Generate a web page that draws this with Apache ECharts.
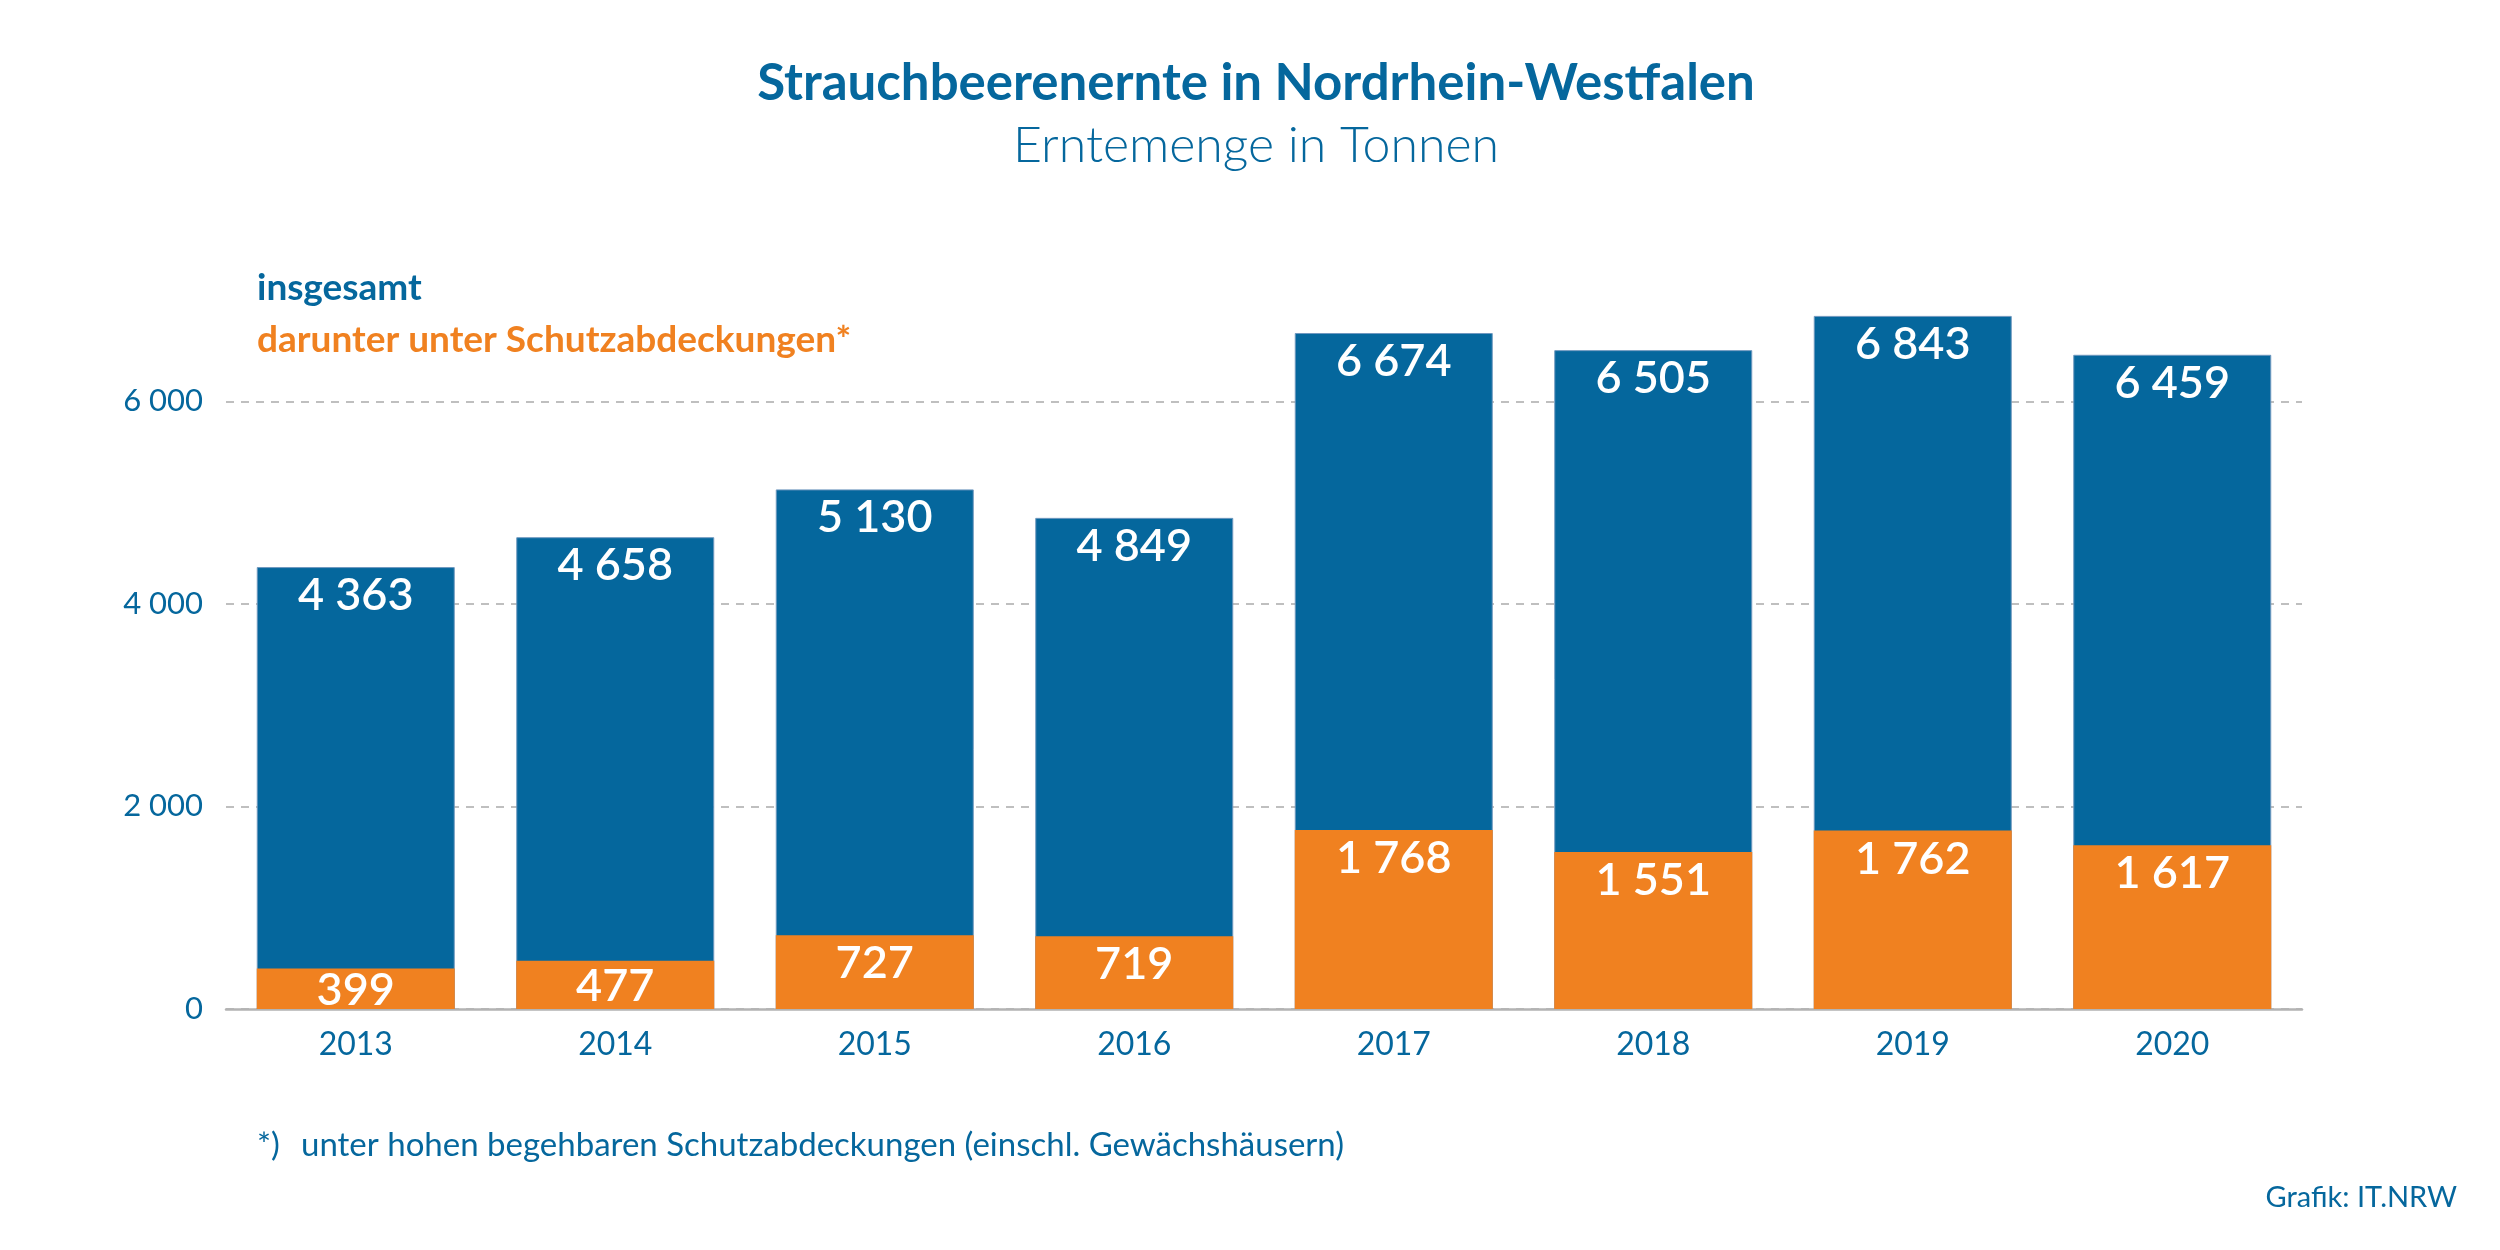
<!DOCTYPE html>
<html>
<head>
<meta charset="utf-8">
<script src="https://cdn.jsdelivr.net/npm/echarts@6/dist/echarts.min.js"></script>
<style>
  html, body { margin: 0; padding: 0; background: #fff; }
  #chart { width: 2500px; height: 1250px; }
</style>
</head>
<body>
<div id="chart"></div>
<script>
// Daten: Strauchbeerenernte NRW, Erntemenge in Tonnen
const years = ["2013", "2014", "2015", "2016", "2017", "2018", "2019", "2020"];
const insgesamt = [4363, 4658, 5130, 4849, 6674, 6505, 6843, 6459];
const schutzabdeckung = [399, 477, 727, 719, 1768, 1551, 1762, 1617];
const yTicks = [0, 2000, 4000, 6000];

const BLUE = "#05679d";
const ORANGE = "#f08120";
const FONT = "Lato, 'Open Sans', sans-serif";

// Tausendertrennzeichen als Leerzeichen
const fmt = (v) => String(v).replace(/\B(?=(\d{3})+(?!\d))/g, " ");

const chart = echarts.init(document.getElementById("chart"));

const labelStyle = {
  show: true, position: "insideTop", distance: 6,
  color: "#fff", fontSize: 45, fontWeight: 600, fontFamily: FONT,
  formatter: (p) => fmt(p.value)
};

// niedrige Balken: Beschriftung mittig statt oben
const orangeData = schutzabdeckung.map((v) =>
  v < 600 ? { value: v, label: { position: "inside", offset: [0, 2] } } : v
);

const option = {
  backgroundColor: "#fff",
  animation: false,
  textStyle: { fontFamily: FONT },
  title: [
    {
      text: "Strauchbeerenernte in Nordrhein-Westfalen",
      left: 1256, top: 54, padding: 0, textAlign: "center",
      textStyle: { fontFamily: FONT, fontSize: 51, fontWeight: "bold", color: BLUE, lineHeight: 60 }
    },
    {
      text: "Erntemenge in Tonnen",
      left: 1256, top: 116, padding: 0, textAlign: "center",
      textStyle: { fontFamily: FONT, fontSize: 50, fontWeight: 300, color: BLUE, lineHeight: 60 }
    }
  ],
  grid: { left: 226, right: 198, top: 300, bottom: 241, containLabel: false },
  xAxis: {
    type: "category",
    data: years,
    axisTick: { show: false },
    axisLine: { show: true, lineStyle: { color: "#b3b3b3", width: 2.5 } },
    axisLabel: { color: BLUE, fontSize: 32, margin: 20, fontFamily: FONT }
  },
  yAxis: {
    type: "value",
    min: 0,
    max: 7000,
    interval: 2000,
    axisLine: { show: false },
    axisTick: { show: false },
    axisLabel: {
      color: BLUE, fontSize: 31, margin: 23, fontFamily: FONT,
      showMaxLabel: false,
      formatter: (v) => (yTicks.indexOf(v) >= 0 ? fmt(v) : "")
    },
    splitLine: {
      show: true,
      showMaxLine: false,
      lineStyle: { color: "#aaaaaa", width: 1.5, type: [8, 7] }
    }
  },
  series: [
    {
      name: "insgesamt",
      type: "bar",
      data: insgesamt,
      barWidth: 198,
      barGap: "-100%",
      itemStyle: { color: BLUE, borderColor: "#6f98bf", borderWidth: 1 },
      label: labelStyle
    },
    {
      name: "darunter unter Schutzabdeckungen*",
      type: "bar",
      data: orangeData,
      barWidth: 198,
      barGap: "-100%",
      itemStyle: { color: ORANGE },
      label: labelStyle
    }
  ],
  graphic: [
    {
      type: "text", left: 257, top: 288 - 21,
      style: { text: "insgesamt", fill: BLUE, font: "bold 37px " + FONT, lineHeight: 42, verticalAlign: "top" }
    },
    {
      type: "text", left: 257, top: 340 - 21,
      style: { text: "darunter unter Schutzabdeckungen*", fill: ORANGE, font: "bold 37px " + FONT, lineHeight: 42, verticalAlign: "top" }
    },
    {
      type: "text", left: 257, top: 1145 - 19,
      style: { text: "*)", fill: BLUE, font: "33px " + FONT, lineHeight: 38, verticalAlign: "top" }
    },
    {
      type: "text", left: 301, top: 1145 - 19,
      style: { text: "unter hohen begehbaren Schutzabdeckungen (einschl. Gewächshäusern)", fill: BLUE, font: "33px " + FONT, lineHeight: 38, verticalAlign: "top" }
    },
    {
      type: "text", right: 43, top: 1198 - 18,
      style: { text: "Grafik: IT.NRW", fill: BLUE, font: "29px " + FONT, lineHeight: 36, verticalAlign: "top" }
    }
  ]
};

chart.setOption(option);
</script>
</body>
</html>
